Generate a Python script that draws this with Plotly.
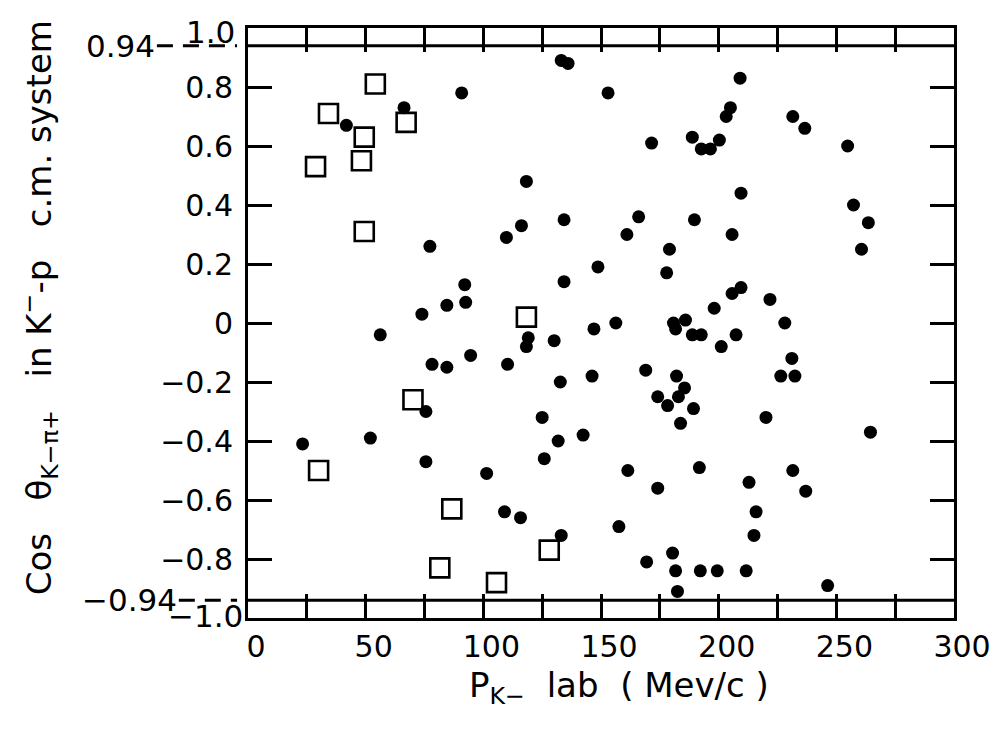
import plotly.graph_objects as go

# ---- data ----
circle_x = [133.1, 136.0, 90.8, 153.0, 66.3, 41.8, 118.3, 134.3, 116.2, 109.8, 77.3, 148.7, 134.3, 92.1,
            92.5, 84.5, 73.9, 209.1, 205.0, 203.2, 231.5, 236.6, 188.8, 192.6, 196.5, 200.3, 171.5, 254.8,
            209.5, 257.3, 263.6, 260.7, 166.0, 161.0, 189.7, 179.1, 205.7, 177.9, 205.7, 209.5, 221.8, 198.1,
            156.3, 180.8, 181.7, 185.9, 188.8, 192.6, 207.4, 201.1, 228.1, 231.1, 226.4, 232.4, 169.0, 182.1,
            185.5, 174.1, 178.3, 182.9, 189.3, 183.8, 220.1, 264.5, 161.4, 174.1, 191.8, 212.9, 231.5, 237.0,
            215.9, 215.0, 157.6, 169.4, 180.4, 181.7, 192.2, 199.4, 211.7, 182.5, 246.3, 56.2, 119.1, 118.3,
            130.1, 147.0, 78.2, 84.5, 94.6, 110.3, 132.7, 146.2, 75.6, 125.0, 131.8, 142.4, 23.2, 52.0,
            75.6, 125.9, 101.4, 109.0, 115.8, 133.1]
circle_y = [0.89, 0.88, 0.78, 0.78, 0.73, 0.67, 0.48, 0.35, 0.33, 0.29, 0.26, 0.19, 0.14, 0.13,
            0.07, 0.06, 0.03, 0.83, 0.73, 0.70, 0.70, 0.66, 0.63, 0.59, 0.59, 0.62, 0.61, 0.60,
            0.44, 0.40, 0.34, 0.25, 0.36, 0.30, 0.35, 0.25, 0.30, 0.17, 0.10, 0.12, 0.08, 0.05,
            0.0, 0.0, -0.02, 0.01, -0.04, -0.04, -0.04, -0.08, 0.0, -0.12, -0.18, -0.18, -0.16, -0.18,
            -0.22, -0.25, -0.28, -0.25, -0.29, -0.34, -0.32, -0.37, -0.50, -0.56, -0.49, -0.54, -0.50, -0.57,
            -0.64, -0.72, -0.69, -0.81, -0.78, -0.84, -0.84, -0.84, -0.84, -0.91, -0.89, -0.04, -0.05, -0.08,
            -0.06, -0.02, -0.14, -0.15, -0.11, -0.14, -0.20, -0.18, -0.30, -0.32, -0.40, -0.38, -0.41, -0.39,
            -0.47, -0.46, -0.51, -0.64, -0.66, -0.72]

square_x = [54.1, 34.2, 49.4, 67.2, 28.7, 48.2, 49.4, 118.3, 70.1, 30.0, 86.6, 128.0, 81.5, 105.6]
square_y = [0.81, 0.71, 0.63, 0.68, 0.53, 0.55, 0.31, 0.02, -0.26, -0.50, -0.63, -0.77, -0.83, -0.88]

cut = 0.94
x_range = [0, 300]
y_range = [-1.0, 1.0]
x_tickvals = [0, 25, 50, 75, 100, 125, 150, 175, 200, 225, 250, 275, 300]
x_ticktext = ["0", "", "50", "", "100", "", "150", "", "200", "", "250", "", "300"]
y_tickvals = [-1.0, -0.8, -0.6, -0.4, -0.2, 0, 0.2, 0.4, 0.6, 0.8, 1.0]
y_ticktext = ["", "−0.8", "−0.6", "−0.4", "−0.2", "0", "0.2", "0.4", "0.6", "0.8", ""]

FONT = "DejaVu Sans, sans-serif"
NB = "\u00a0"

fig = go.Figure()

# cut lines at +-0.94
for c in (cut, -cut):
    fig.add_trace(go.Scatter(x=x_range, y=[c, c], mode="lines",
                             line=dict(color="black", width=3), hoverinfo="skip", showlegend=False))

fig.add_trace(go.Scatter(x=square_x, y=square_y, mode="markers",
                         marker=dict(symbol="square", size=19, color="white",
                                     line=dict(color="black", width=2.6)),
                         showlegend=False))
fig.add_trace(go.Scatter(x=circle_x, y=circle_y, mode="markers",
                         marker=dict(symbol="circle", size=13, color="black",
                                     line=dict(width=0)),
                         showlegend=False))

axis_common = dict(showline=True, linecolor="black", linewidth=3, mirror="ticks",
                   ticks="inside", ticklen=24, tickwidth=3, tickcolor="black",
                   showgrid=False, zeroline=False,
                   tickfont=dict(family=FONT, size=30, color="black"))

fig.update_xaxes(range=x_range, tickmode="array", tickvals=x_tickvals, ticktext=x_ticktext,
                 ticklabelstandoff=0, ticklabelshift=8, **axis_common)
fig.update_yaxes(range=y_range, tickmode="array", tickvals=y_tickvals, ticktext=y_ticktext,
                 ticklabelstandoff=6, **axis_common)

ann_font = dict(family=FONT, size=31, color="black")
title_font = dict(family=FONT, size=34, color="black")
annotations = [
    dict(text="1.0", xref="paper", yref="paper", x=-0.0155, y=0.993,
         xanchor="right", yanchor="middle", showarrow=False, font=ann_font),
    dict(text="−1.0", xref="paper", yref="paper", x=-0.004, y=0.004,
         xanchor="right", yanchor="middle", showarrow=False, font=ann_font),
    dict(text="0.94", xref="paper", yref="y", x=-0.129, y=cut,
         xanchor="right", yanchor="middle", showarrow=False, font=ann_font),
    dict(text="−0.94", xref="paper", yref="y", x=-0.098, y=-cut,
         xanchor="right", yanchor="middle", showarrow=False, font=ann_font),
    dict(text="P<sub>K−</sub>" + NB * 2 + "lab" + NB * 2 + "(" + NB + "Mev/c" + NB + ")",
         xref="paper", yref="paper", x=0.525, y=-0.117,
         xanchor="center", yanchor="middle", showarrow=False, font=title_font),
    dict(text="Cos" + NB * 3 + "θ<sub>K−π+</sub>" + NB * 3 + "in" + NB + "K<sup>−</sup>-p" + NB * 3 +
         "c.m." + NB + "system",
         xref="paper", yref="paper", x=-0.296, y=0.525, textangle=-90,
         xanchor="center", yanchor="middle", showarrow=False, font=title_font),
]

shapes = [
    dict(type="line", xref="paper", yref="y", x0=-0.129, x1=-0.0155, y0=cut, y1=cut,
         line=dict(color="black", width=3, dash="16px,10px")),
    dict(type="line", xref="paper", yref="y", x0=-0.098, x1=-0.0155, y0=-cut, y1=-cut,
         line=dict(color="black", width=3, dash="16px,10px")),
]

# the page body has an 8px default margin; shrink the figure so the plot area lands in place
fig.update_layout(width=995, height=727,
                  margin=dict(l=240, r=45, t=20, b=117),
                  plot_bgcolor="white", paper_bgcolor="white",
                  showlegend=False, annotations=annotations, shapes=shapes,
                  font=dict(family=FONT, color="black"))

fig.write_html("out.html")
